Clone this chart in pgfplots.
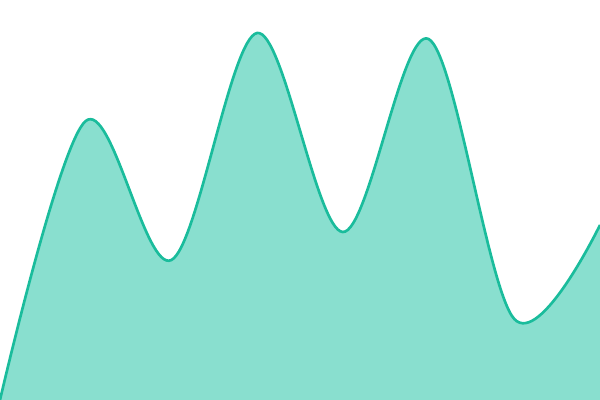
\documentclass[border=0pt]{standalone}
\usepackage{pgfplots}
\pgfplotsset{compat=1.18}
\definecolor{lineC}{RGB}{26,188,156}
\definecolor{fillC}{RGB}{137,223,207}
\begin{document}
\begin{tikzpicture}
\begin{axis}[
    width=15cm, height=10cm,
    scale only axis,
    hide axis,
    xmin=0, xmax=7,
    ymin=0, ymax=400,
    clip=true,
]
    % force full bounding box
    \path (rel axis cs:0,0) rectangle (rel axis cs:1,1);
    \addplot[draw=none, fill=fillC, smooth, tension=0.55] coordinates {
        (0,0) (1,279) (2,140) (3,367) (4,168) (5,361) (6,81) (7,175)
    } \closedcycle;
    \addplot[color=lineC, line width=1.9pt, smooth, tension=0.55] coordinates {
        (0,0) (1,279) (2,140) (3,367) (4,168) (5,361) (6,81) (7,175)
    };
\end{axis}
\end{tikzpicture}
\end{document}
